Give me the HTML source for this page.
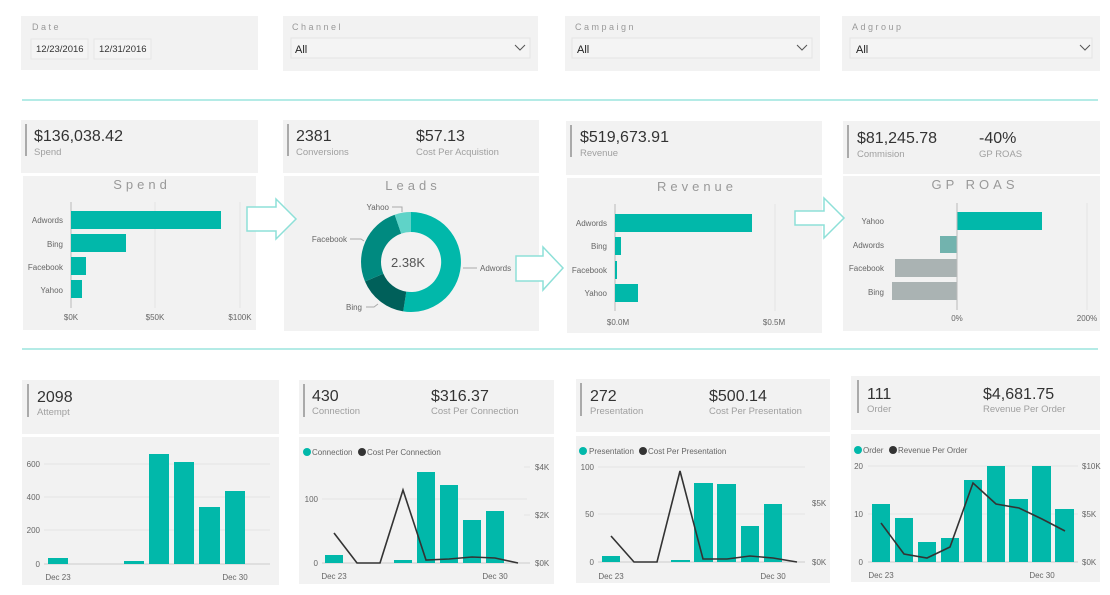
<!DOCTYPE html>
<html><head><meta charset="utf-8"><style>
html,body{margin:0;padding:0;background:#fff}
svg{display:block;font-family:"Liberation Sans",sans-serif}
.p{fill:#f2f2f2}
.t{font-size:8px;fill:#666}
.big{font-size:16px;fill:#333}
.lab{font-size:9.5px;fill:#a0a0a0}
.ttl{font-size:13px;fill:#999;letter-spacing:4px}
.fl{font-size:9px;fill:#999;letter-spacing:2.5px}
.b{fill:#01b8aa}
.g{stroke:#e4e4e4;stroke-width:1}
</style></head><body>
<svg width="1110" height="595" viewBox="0 0 1110 595">
<!-- filters -->
<rect class="p" x="21" y="16" width="237" height="54"/>
<text class="fl" x="32" y="30">Date</text>
<rect x="31" y="39" width="57" height="20" fill="#f4f4f4" stroke="#e6e6e6"/>
<rect x="94" y="39" width="57" height="20" fill="#f4f4f4" stroke="#e6e6e6"/>
<text x="36" y="52" font-size="9.5" fill="#333">12/23/2016</text>
<text x="99" y="52" font-size="9.5" fill="#333">12/31/2016</text>
<rect class="p" x="283" y="16" width="255" height="55"/>
<text class="fl" x="292" y="30">Channel</text>
<rect class="p" x="565" y="16" width="255" height="55"/>
<text class="fl" x="575" y="30">Campaign</text>
<rect class="p" x="842" y="16" width="258" height="55"/>
<text class="fl" x="852" y="30">Adgroup</text>
<g fill="#f4f4f4" stroke="#e4e4e4">
<rect x="291" y="38" width="239" height="20"/><rect x="572" y="38" width="240" height="20"/><rect x="850" y="38" width="242" height="20"/></g>
<g font-size="11" fill="#222"><text x="295" y="53">All</text><text x="577" y="53">All</text><text x="856" y="53">All</text></g>
<g fill="none" stroke="#555" stroke-width="1"><path d="M515 45l5 5 5-5"/><path d="M797 45l5 5 5-5"/><path d="M1080 45l5 5 5-5"/></g>
<rect x="22" y="99" width="1076" height="2" fill="#b4ebe6"/>
<rect x="22" y="348" width="1076" height="2" fill="#b4ebe6"/>

<!-- row2 KPI -->
<rect class="p" x="21" y="120" width="237" height="53"/>
<rect x="25" y="124" width="2" height="32" fill="#aaa"/>
<text class="big" x="34" y="141">$136,038.42</text><text class="lab" x="34" y="155">Spend</text>
<rect class="p" x="283" y="120" width="256" height="53"/>
<rect x="287" y="124" width="2" height="32" fill="#aaa"/>
<text class="big" x="296" y="141">2381</text><text class="lab" x="296" y="155">Conversions</text>
<text class="big" x="416" y="141">$57.13</text><text class="lab" x="416" y="155">Cost Per Acquistion</text>
<rect class="p" x="566" y="121" width="256" height="54"/>
<rect x="570" y="125" width="2" height="32" fill="#aaa"/>
<text class="big" x="580" y="142">$519,673.91</text><text class="lab" x="580" y="156">Revenue</text>
<rect class="p" x="843" y="121" width="257" height="53"/>
<rect x="847" y="125" width="2" height="33" fill="#aaa"/>
<text class="big" x="857" y="143">$81,245.78</text><text class="lab" x="857" y="157">Commision</text>
<text class="big" x="979" y="143">-40%</text><text class="lab" x="979" y="157">GP ROAS</text>

<!-- Spend chart -->
<rect class="p" x="23" y="176" width="233" height="154"/>
<text class="ttl" x="142" y="189" text-anchor="middle">Spend</text>
<line class="g" x1="155" y1="202" x2="155" y2="308"/><line class="g" x1="240" y1="202" x2="240" y2="308"/>
<line x1="71" y1="202" x2="71" y2="308" stroke="#bbb"/>
<rect class="b" x="71" y="211" width="150" height="18"/><rect class="b" x="71" y="234" width="55" height="18"/>
<rect class="b" x="71" y="257" width="15" height="18"/><rect class="b" x="71" y="280" width="11" height="18"/>
<g class="t" text-anchor="end"><text x="63" y="223">Adwords</text><text x="63" y="247">Bing</text><text x="63" y="270">Facebook</text><text x="63" y="293">Yahoo</text></g>
<g class="t" text-anchor="middle"><text x="71" y="320">$0K</text><text x="155" y="320">$50K</text><text x="240" y="320">$100K</text></g>

<!-- Leads -->
<rect class="p" x="284" y="176" width="255" height="155"/>
<text class="ttl" x="413" y="190" text-anchor="middle">Leads</text>
<g transform="translate(411 262)">
<path d="M0 -50A50 50 0 1 1 -7.8 49.4L-4.7 29.6A30 30 0 1 0 0 -30Z" fill="#01b8aa"/>
<path d="M-7.8 49.4A50 50 0 0 1 -46 19.5L-27.6 11.7A30 30 0 0 0 -4.7 29.6Z" fill="#00605a"/>
<path d="M-46 19.5A50 50 0 0 1 -16.3 -47.3L-9.8 -28.4A30 30 0 0 0 -27.6 11.7Z" fill="#008a80"/>
<path d="M-16.3 -47.3A50 50 0 0 1 0 -50L0 -30A30 30 0 0 0 -9.8 -28.4Z" fill="#5fd3c8"/>
<text x="-3" y="5" text-anchor="middle" font-size="13" fill="#555">2.38K</text>
</g>
<g stroke="#aaa" fill="none"><path d="M392 207h10v5"/><path d="M350 239h11l3 2"/><path d="M463 268h14"/><path d="M366 307h8l4-3"/></g>
<g class="t"><text x="389" y="210" text-anchor="end">Yahoo</text><text x="347" y="242" text-anchor="end">Facebook</text><text x="480" y="271">Adwords</text><text x="362" y="310" text-anchor="end">Bing</text></g>

<!-- Revenue chart -->
<rect class="p" x="567" y="178" width="255" height="155"/>
<text class="ttl" x="697" y="191" text-anchor="middle">Revenue</text>
<line class="g" x1="775" y1="204" x2="775" y2="311"/>
<line x1="615" y1="204" x2="615" y2="311" stroke="#bbb"/>
<rect class="b" x="615" y="214" width="137" height="18"/><rect class="b" x="615" y="237" width="6" height="18"/>
<rect class="b" x="615" y="261" width="2" height="18"/><rect class="b" x="615" y="284" width="23" height="18"/>
<g class="t" text-anchor="end"><text x="607" y="226">Adwords</text><text x="607" y="249">Bing</text><text x="607" y="273">Facebook</text><text x="607" y="296">Yahoo</text></g>
<g class="t" text-anchor="middle"><text x="618" y="325">$0.0M</text><text x="774" y="325">$0.5M</text></g>

<!-- GP ROAS -->
<rect class="p" x="843" y="176" width="257" height="155"/>
<text class="ttl" x="975" y="189" text-anchor="middle">GP ROAS</text>
<line class="g" x1="1087" y1="203" x2="1087" y2="310"/>
<rect class="b" x="957" y="212" width="85" height="18"/>
<rect x="940" y="236" width="17" height="17" fill="#72b3ae"/>
<rect x="895" y="259" width="62" height="18" fill="#aab3b3"/>
<rect x="892" y="282" width="65" height="18" fill="#aab3b3"/>
<line x1="957" y1="203" x2="957" y2="310" stroke="#bbb"/>
<g class="t" text-anchor="end"><text x="884" y="224">Yahoo</text><text x="884" y="248">Adwords</text><text x="884" y="271">Facebook</text><text x="884" y="295">Bing</text></g>
<g class="t" text-anchor="middle"><text x="957" y="321">0%</text><text x="1087" y="321">200%</text></g>

<!-- arrows (on top) -->
<g fill="#fff" stroke="#8ee0d8" stroke-width="1.5">
<path d="M247 207h29v-8l20 20-20 20v-8h-29z"/>
<path d="M516 256h27v-9l20 21-20 22v-9h-27z"/>
<path d="M795 211h29v-13l20 20-20 20v-13h-29z"/>
</g>

<!-- row3 KPI -->
<rect class="p" x="22" y="380" width="257" height="54"/>
<rect x="27" y="384" width="2" height="33" fill="#aaa"/>
<text class="big" x="37" y="402">2098</text><text class="lab" x="37" y="415">Attempt</text>
<rect class="p" x="299" y="380" width="255" height="54"/>
<rect x="303" y="384" width="2" height="33" fill="#aaa"/>
<text class="big" x="312" y="401">430</text><text class="lab" x="312" y="414">Connection</text>
<text class="big" x="431" y="401">$316.37</text><text class="lab" x="431" y="414">Cost Per Connection</text>
<rect class="p" x="576" y="379" width="254" height="53"/>
<rect x="580" y="383" width="2" height="33" fill="#aaa"/>
<text class="big" x="590" y="401">272</text><text class="lab" x="590" y="414">Presentation</text>
<text class="big" x="709" y="401">$500.14</text><text class="lab" x="709" y="414">Cost Per Presentation</text>
<rect class="p" x="851" y="376" width="249" height="54"/>
<rect x="857" y="380" width="2" height="33" fill="#aaa"/>
<text class="big" x="867" y="399">111</text><text class="lab" x="867" y="412">Order</text>
<text class="big" x="983" y="399">$4,681.75</text><text class="lab" x="983" y="412">Revenue Per Order</text>

<!-- Attempt chart -->
<rect class="p" x="22" y="437" width="257" height="148"/>
<g class="g"><line x1="44" y1="464" x2="270" y2="464"/><line x1="44" y1="497" x2="270" y2="497"/><line x1="44" y1="530" x2="270" y2="530"/></g>
<line x1="44" y1="564" x2="270" y2="564" stroke="#ccc"/>
<g class="b"><rect x="48" y="558" width="20" height="6"/><rect x="124" y="561" width="20" height="3"/><rect x="149" y="454" width="20" height="110"/><rect x="174" y="462" width="20" height="102"/><rect x="199" y="507" width="21" height="57"/><rect x="225" y="491" width="20" height="73"/></g>
<g class="t" text-anchor="end"><text x="40" y="467">600</text><text x="40" y="500">400</text><text x="40" y="533">200</text><text x="40" y="567">0</text></g>
<g class="t" text-anchor="middle"><text x="58" y="580">Dec 23</text><text x="235" y="580">Dec 30</text></g>

<!-- Connection chart -->
<rect class="p" x="299" y="437" width="255" height="147"/>
<circle cx="307" cy="452" r="4" fill="#01b8aa"/><text class="t" x="312" y="455">Connection</text>
<circle cx="362" cy="452" r="4" fill="#333"/><text class="t" x="367" y="455">Cost Per Connection</text>
<g class="g"><line x1="322" y1="499" x2="527" y2="499"/><line x1="524" y1="467" x2="530" y2="467"/><line x1="524" y1="515" x2="530" y2="515"/></g>
<line x1="322" y1="563" x2="530" y2="563" stroke="#ccc"/>
<g class="b"><rect x="325" y="555" width="18" height="8"/><rect x="394" y="560" width="18" height="3"/><rect x="417" y="472" width="18" height="91"/><rect x="440" y="485" width="18" height="78"/><rect x="463" y="520" width="18" height="43"/><rect x="486" y="511" width="18" height="52"/></g>
<polyline fill="none" stroke="#333" stroke-width="1.6" points="334,533 357,563 380,563 403,490 426,560 449,559 472,557 495,558 518,563"/>
<g class="t" text-anchor="end"><text x="318" y="502">100</text><text x="318" y="566">0</text></g>
<g class="t"><text x="535" y="470">$4K</text><text x="535" y="518">$2K</text><text x="535" y="566">$0K</text></g>
<g class="t" text-anchor="middle"><text x="334" y="579">Dec 23</text><text x="495" y="579">Dec 30</text></g>

<!-- Presentation chart -->
<rect class="p" x="576" y="436" width="254" height="147"/>
<circle cx="583" cy="451" r="4" fill="#01b8aa"/><text class="t" x="589" y="454">Presentation</text>
<circle cx="643" cy="451" r="4" fill="#333"/><text class="t" x="648" y="454">Cost Per Presentation</text>
<g class="g"><line x1="598" y1="467" x2="805" y2="467"/><line x1="598" y1="514" x2="805" y2="514"/></g>
<line x1="598" y1="562" x2="805" y2="562" stroke="#ccc"/>
<g class="b"><rect x="602" y="556" width="18" height="6"/><rect x="671" y="560" width="19" height="2"/><rect x="694" y="483" width="19" height="79"/><rect x="717" y="484" width="19" height="78"/><rect x="741" y="526" width="18" height="36"/><rect x="764" y="504" width="18" height="58"/></g>
<polyline fill="none" stroke="#333" stroke-width="1.6" points="611,536 634,562 657,562 680,471 703,559 727,559 750,556 773,558 797,562"/>
<g class="t" text-anchor="end"><text x="594" y="470">100</text><text x="594" y="517">50</text><text x="594" y="565">0</text></g>
<g class="t"><text x="812" y="506">$5K</text><text x="812" y="565">$0K</text></g>
<g class="t" text-anchor="middle"><text x="611" y="579">Dec 23</text><text x="773" y="579">Dec 30</text></g>

<!-- Order chart -->
<rect class="p" x="851" y="434" width="249" height="148"/>
<circle cx="858" cy="450" r="4" fill="#01b8aa"/><text class="t" x="863" y="453">Order</text>
<circle cx="893" cy="450" r="4" fill="#333"/><text class="t" x="898" y="453">Revenue Per Order</text>
<g class="g"><line x1="868" y1="466" x2="1078" y2="466"/><line x1="868" y1="514" x2="1078" y2="514"/></g>
<line x1="868" y1="562" x2="1078" y2="562" stroke="#ccc"/>
<g class="b"><rect x="872" y="504" width="18" height="58"/><rect x="895" y="518" width="18" height="44"/><rect x="918" y="542" width="18" height="20"/><rect x="941" y="538" width="18" height="24"/><rect x="964" y="480" width="18" height="82"/><rect x="987" y="466" width="18" height="96"/><rect x="1009" y="499" width="19" height="63"/><rect x="1032" y="466" width="19" height="96"/><rect x="1055" y="509" width="19" height="53"/></g>
<polyline fill="none" stroke="#333" stroke-width="1.6" points="881,523 904,554 927,558 950,547 973,483 996,504 1019,508 1042,519 1065,531"/>
<g class="t" text-anchor="end"><text x="863" y="469">20</text><text x="863" y="517">10</text><text x="863" y="565">0</text></g>
<g class="t"><text x="1082" y="469">$10K</text><text x="1082" y="517">$5K</text><text x="1082" y="565">$0K</text></g>
<g class="t" text-anchor="middle"><text x="881" y="578">Dec 23</text><text x="1042" y="578">Dec 30</text></g>
</svg>
</body></html>
